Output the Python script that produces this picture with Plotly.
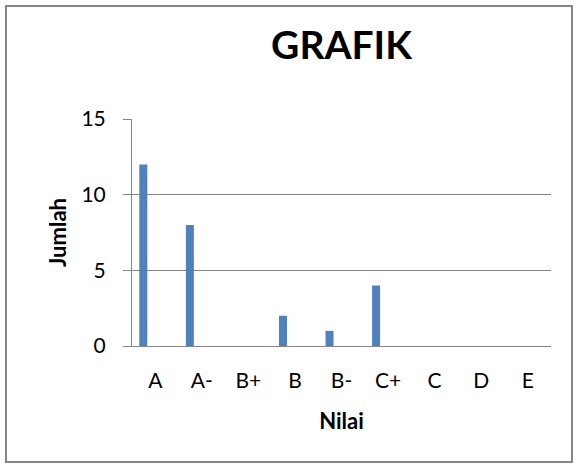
import plotly.graph_objects as go

categories = ["A", "A-", "B+", "B", "B-", "C+", "C", "D", "E"]
jumlah = [12, 8, 0, 2, 1, 4, 0, 0, 0]
y_ticks = [0, 5, 10, 15]

L, R, T, B = 132, 25, 119, 121
W, H = 576, 467
pw, ph = W - L - R, H - T - B

def px_x(x):
    return (x - L) / pw

def px_y(y):
    return (H - B - y) / ph

fig = go.Figure()
fig.add_trace(go.Bar(
    x=categories, y=jumlah,
    width=0.172, offset=-0.343,
    marker=dict(color="#4F81BD", line=dict(width=0)),
))

fig.update_layout(
    width=W, height=H,
    margin=dict(l=L, r=R, t=T, b=B),
    paper_bgcolor="white", plot_bgcolor="white",
    font=dict(family="Lato, Carlito, sans-serif", color="black", size=21),
    showlegend=False,
    title=dict(text="<b>GRAFIK</b>", x=0.5, xref="paper", xanchor="center",
               y=1 - 45.5 / H, yanchor="middle", font=dict(size=39)),
    xaxis=dict(
        type="category", showline=True, linecolor="#868686", linewidth=1,
        ticks="", showgrid=False, ticklabelstandoff=16,
        title=dict(text="<b>Nilai</b>", font=dict(size=22), standoff=22),
    ),
    yaxis=dict(
        range=[0, 15], tickvals=y_ticks, showline=True, linecolor="#868686",
        linewidth=1, ticks="outside", ticklen=8, tickcolor="#868686",
        showgrid=True, gridcolor="#868686", gridwidth=1, zeroline=False,
        ticklabelstandoff=13,
        title=dict(text="<b>Jumlah</b>", font=dict(size=22), standoff=8),
    ),
    shapes=[dict(type="rect", xref="paper", yref="paper",
                 x0=px_x(6), x1=px_x(572), y0=px_y(462), y1=px_y(6),
                 line=dict(color="#868686", width=2), fillcolor="rgba(0,0,0,0)",
                 layer="below")],
)

fig.write_html("out.html", config={"displayModeBar": False},
               post_script="document.body.style.margin='0';document.body.style.overflow='hidden';")
